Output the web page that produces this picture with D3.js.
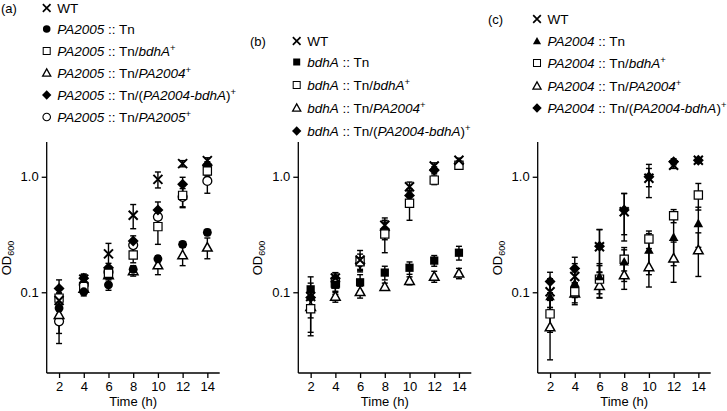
<!DOCTYPE html>
<html><head><meta charset="utf-8">
<script src="https://cdn.jsdelivr.net/npm/d3@7/dist/d3.min.js"></script>
<style>body{margin:0;background:#fff}svg{display:block;font-family:"Liberation Sans",Arial,sans-serif}</style>
</head><body><svg id="c" width="727" height="411"></svg>
<script>
// ---------- data ----------
const times = [2, 4, 6, 8, 10, 12, 14];
const xTicks = [2, 4, 6, 8, 10, 12, 14];
const yTicks = [0.1, 1.0];
const yTickLabels = ["0.1", "1.0"];

// panel (a)
const aWT      = [0.085, 0.13, 0.215, 0.465, 0.95, 1.30, 1.38];
const aWTsd    = [0.012, 0.012, 0.05, 0.11, 0.15, 0.08, 0.08];
const aTn      = [0.073, 0.101, 0.116, 0.158, 0.195, 0.26, 0.33];
const aTnSd    = [0.01, 0.008, 0.012, 0.012, 0.012, 0.015, 0.02];
const aBdhA    = [0.089, 0.112, 0.146, 0.21, 0.37, 0.69, 1.12];
const aBdhASd  = [0.01, 0.01, 0.012, 0.03, 0.11, 0.15, 0.10];
const a2004    = [0.064, 0.108, 0.141, 0.153, 0.172, 0.21, 0.245];
const a2004Sd  = [0.02, 0.01, 0.01, 0.015, 0.03, 0.04, 0.05];
const aBoth    = [0.108, 0.132, 0.163, 0.278, 0.515, 0.86, 1.25];
const aBothSd  = [0.02, 0.012, 0.015, 0.03, 0.09, 0.13, 0.10];
const a2005    = [0.056, 0.116, 0.15, 0.256, 0.45, 0.67, 0.92];
const a2005Sd  = [0.02, 0.01, 0.012, 0.03, 0.06, 0.12, 0.20];

// panel (b)
const bWT      = [0.092, 0.133, 0.19, 0.38, 0.82, 1.24, 1.39];
const bWTsd    = [0.02, 0.015, 0.04, 0.06, 0.08, 0.08, 0.06];
const bTn      = [0.106, 0.116, 0.122, 0.148, 0.163, 0.188, 0.22];
const bTnSd    = [0.03, 0.02, 0.02, 0.02, 0.02, 0.02, 0.03];
const bBdhA    = [0.072, 0.12, 0.184, 0.32, 0.59, 0.935, 1.26];
const bBdhASd  = [0.03, 0.02, 0.03, 0.10, 0.17, 0.08, 0.06];
const b2004    = [0.075, 0.092, 0.101, 0.112, 0.126, 0.137, 0.146];
const b2004Sd  = [0.03, 0.01, 0.012, 0.008, 0.01, 0.015, 0.015];
const bBoth    = [0.09, 0.132, 0.178, 0.345, 0.69, 1.14, 1.30];
const bBothSd  = [0.03, 0.015, 0.02, 0.06, 0.10, 0.08, 0.06];

// panel (c)
const cWT      = [0.101, 0.137, 0.248, 0.498, 0.97, 1.26, 1.39];
const cWTsd    = [0.03, 0.04, 0.10, 0.22, 0.31, 0.08, 0.06];
const cTn      = [0.092, 0.12, 0.137, 0.184, 0.232, 0.30, 0.395];
const cTnSd    = [0.03, 0.03, 0.04, 0.06, 0.09, 0.13, 0.15];
const cBdhA    = [0.065, 0.101, 0.13, 0.193, 0.289, 0.46, 0.695];
const cBdhASd  = [0.02, 0.02, 0.04, 0.04, 0.05, 0.06, 0.18];
const c2004    = [0.05, 0.098, 0.114, 0.141, 0.166, 0.197, 0.232];
const c2004Sd  = [0.024, 0.02, 0.025, 0.035, 0.055, 0.075, 0.095];
const cBoth    = [0.124, 0.161, 0.25, 0.515, 1.0, 1.35, 1.39];
const cBothSd  = [0.025, 0.04, 0.10, 0.20, 0.18, 0.08, 0.05];

// legend labels: *italic*, ^superscript
const aLabels = ["WT", "*PA2005* :: Tn", "*PA2005* :: Tn/*bdhA*^+", "*PA2005* :: Tn/*PA2004*^+",
                 "*PA2005* :: Tn/(*PA2004-bdhA*)^+", "*PA2005* :: Tn/*PA2005*^+"];
const bLabels = ["WT", "*bdhA* :: Tn", "*bdhA* :: Tn/*bdhA*^+", "*bdhA* :: Tn/*PA2004*^+",
                 "*bdhA* :: Tn/(*PA2004-bdhA*)^+"];
const cLabels = ["WT", "*PA2004* :: Tn", "*PA2004* :: Tn/*bdhA*^+", "*PA2004* :: Tn/*PA2004*^+",
                 "*PA2004* :: Tn/(*PA2004-bdhA*)^+"];
const panelTags = ["(a)", "(b)", "(c)"];

// ---------- layout ----------
const panels = [
  {tag: panelTags[0], x0: 46.7, tagX: 1, tagY: 8, legX: 46.7, legRows: [8, 29, 51, 73, 95, 117],
   labels: aLabels, series: [
    {v: aWT, sd: aWTsd, m: "x"}, {v: aTn, sd: aTnSd, m: "circleF"}, {v: aBdhA, sd: aBdhASd, m: "square"},
    {v: a2004, sd: a2004Sd, m: "tri"}, {v: aBoth, sd: aBothSd, m: "diamond"}, {v: a2005, sd: a2005Sd, m: "circle"}]},
  {tag: panelTags[1], x0: 298.3, tagX: 250, tagY: 41, legX: 296.7, legRows: [41, 62, 85, 108, 131],
   labels: bLabels, series: [
    {v: bWT, sd: bWTsd, m: "x"}, {v: bTn, sd: bTnSd, m: "squareF"}, {v: bBdhA, sd: bBdhASd, m: "square"},
    {v: b2004, sd: b2004Sd, m: "tri"}, {v: bBoth, sd: bBothSd, m: "diamond"}]},
  {tag: panelTags[2], x0: 537.7, tagX: 488, tagY: 19, legX: 537, legRows: [19, 41, 63, 86, 108],
   labels: cLabels, series: [
    {v: cWT, sd: cWTsd, m: "x"}, {v: cTn, sd: cTnSd, m: "triF"}, {v: cBdhA, sd: cBdhASd, m: "square"},
    {v: c2004, sd: c2004Sd, m: "tri"}, {v: cBoth, sd: cBothSd, m: "diamond"}]}
];
const plotW = 173, yTop = 142, yBot = 373;

const svg = d3.select("#c");

function marker(g, type, x, y, k = 1) {
  const s = g.append("path").attr("transform", `translate(${x},${y}) scale(${k})`);
  if (type === "x") {
    s.attr("d", "M-4.5,-4.5L4.5,4.5M-4.5,4.5L4.5,-4.5").attr("stroke", "#000").attr("stroke-width", 2).attr("fill", "none");
  } else if (type === "circleF" || type === "circle") {
    s.attr("d", d3.symbol(d3.symbolCircle, 62)());
    if (type === "circleF") s.attr("fill", "#000"); else s.attr("fill", "#fff").attr("stroke", "#000").attr("stroke-width", 1.3);
  } else if (type === "square" || type === "squareF") {
    s.attr("d", d3.symbol(d3.symbolSquare, 68)());
    if (type === "squareF") s.attr("fill", "#000"); else s.attr("fill", "#fff").attr("stroke", "#000").attr("stroke-width", 1.2);
  } else if (type === "tri" || type === "triF") {
    s.attr("d", "M0,-4.8L4.8,3.8L-4.8,3.8Z");
    if (type === "triF") s.attr("fill", "#000"); else s.attr("fill", "#fff").attr("stroke", "#000").attr("stroke-width", 1.5);
  } else if (type === "diamond") {
    s.attr("d", "M0,-5.5L5.5,0L0,5.5L-5.5,0Z").attr("fill", "#000");
  }
}

function richText(t, str, size) {
  const re = /(\*[^*]+\*|\^[^*^]+|[^*^]+)/g;
  let m;
  while ((m = re.exec(str)) !== null) {
    const tok = m[0];
    if (tok.startsWith("*")) t.append("tspan").attr("font-style", "italic").text(tok.slice(1, -1));
    else if (tok.startsWith("^")) t.append("tspan").attr("font-size", size * 0.7).attr("dy", -size * 0.38).text(tok.slice(1));
    else t.append("tspan").text(tok);
  }
}

panels.forEach(p => {
  const x = d3.scaleLinear().domain([1, 15]).range([p.x0, p.x0 + plotW]);
  const y = d3.scaleLog().domain([0.02, 2]).range([yBot, yTop]);
  const g = svg.append("g");

  // axes
  const xAx = g.append("g").attr("transform", `translate(0,${yBot})`)
    .call(d3.axisBottom(x).tickValues(xTicks).tickSize(5).tickPadding(4).tickFormat(d3.format("d")));
  const yAx = g.append("g").attr("transform", `translate(${p.x0},0)`)
    .call(d3.axisLeft(y).tickValues(yTicks).tickSize(5).tickPadding(3).tickFormat((d, i) => yTickLabels[i]));
  [xAx, yAx].forEach(a => {
    a.select(".domain").attr("stroke", "#000").attr("stroke-width", 1.3)
      .attr("d", a === xAx ? `M${p.x0},0H${p.x0 + plotW}` : `M0,${yTop}V${yBot}`);
    a.selectAll(".tick line").attr("stroke", "#000").attr("stroke-width", 1.3);
    a.selectAll(".tick text").attr("font-size", 13).attr("fill", "#000").attr("font-family", "Liberation Sans, Arial, sans-serif");
  });

  // axis titles
  g.append("text").attr("x", p.x0 + plotW / 2).attr("y", 406).attr("text-anchor", "middle")
    .attr("font-size", 13).text("Time (h)");
  const yl = g.append("text").attr("transform", `translate(${p.x0 - 36},258) rotate(-90)`)
    .attr("text-anchor", "middle").attr("font-size", 13);
  yl.append("tspan").text("OD");
  yl.append("tspan").attr("font-size", 9).attr("dy", 3).text("600");

  // error bars
  p.series.forEach(s => {
    s.v.forEach((v, i) => {
      const lo = Math.max(v - s.sd[i], 0.021), hi = v + s.sd[i];
      const cx = x(times[i]);
      g.append("line").attr("x1", cx).attr("x2", cx).attr("y1", y(lo)).attr("y2", y(hi))
        .attr("stroke", "#000").attr("stroke-width", 1.4);
      [lo, hi].forEach(b => g.append("line").attr("x1", cx - 3).attr("x2", cx + 3)
        .attr("y1", y(b)).attr("y2", y(b)).attr("stroke", "#000").attr("stroke-width", 1.4));
    });
  });
  // markers
  p.series.slice().reverse().forEach(s => {
    s.v.forEach((v, i) => marker(g, s.m, x(times[i]), y(v)));
  });

  // tag
  g.append("text").attr("x", p.tagX).attr("y", p.tagY).attr("dy", "0.35em").attr("font-size", 13).text(p.tag);
  // legend
  p.series.forEach((s, i) => {
    const ry = p.legRows[i];
    marker(g, s.m, p.legX, ry, 0.85);
    const t = g.append("text").attr("x", p.legX + 10.5).attr("y", ry).attr("dy", "0.35em").attr("font-size", 13.5);
    richText(t, p.labels[i], 13.5);
  });
});
</script></body></html>
